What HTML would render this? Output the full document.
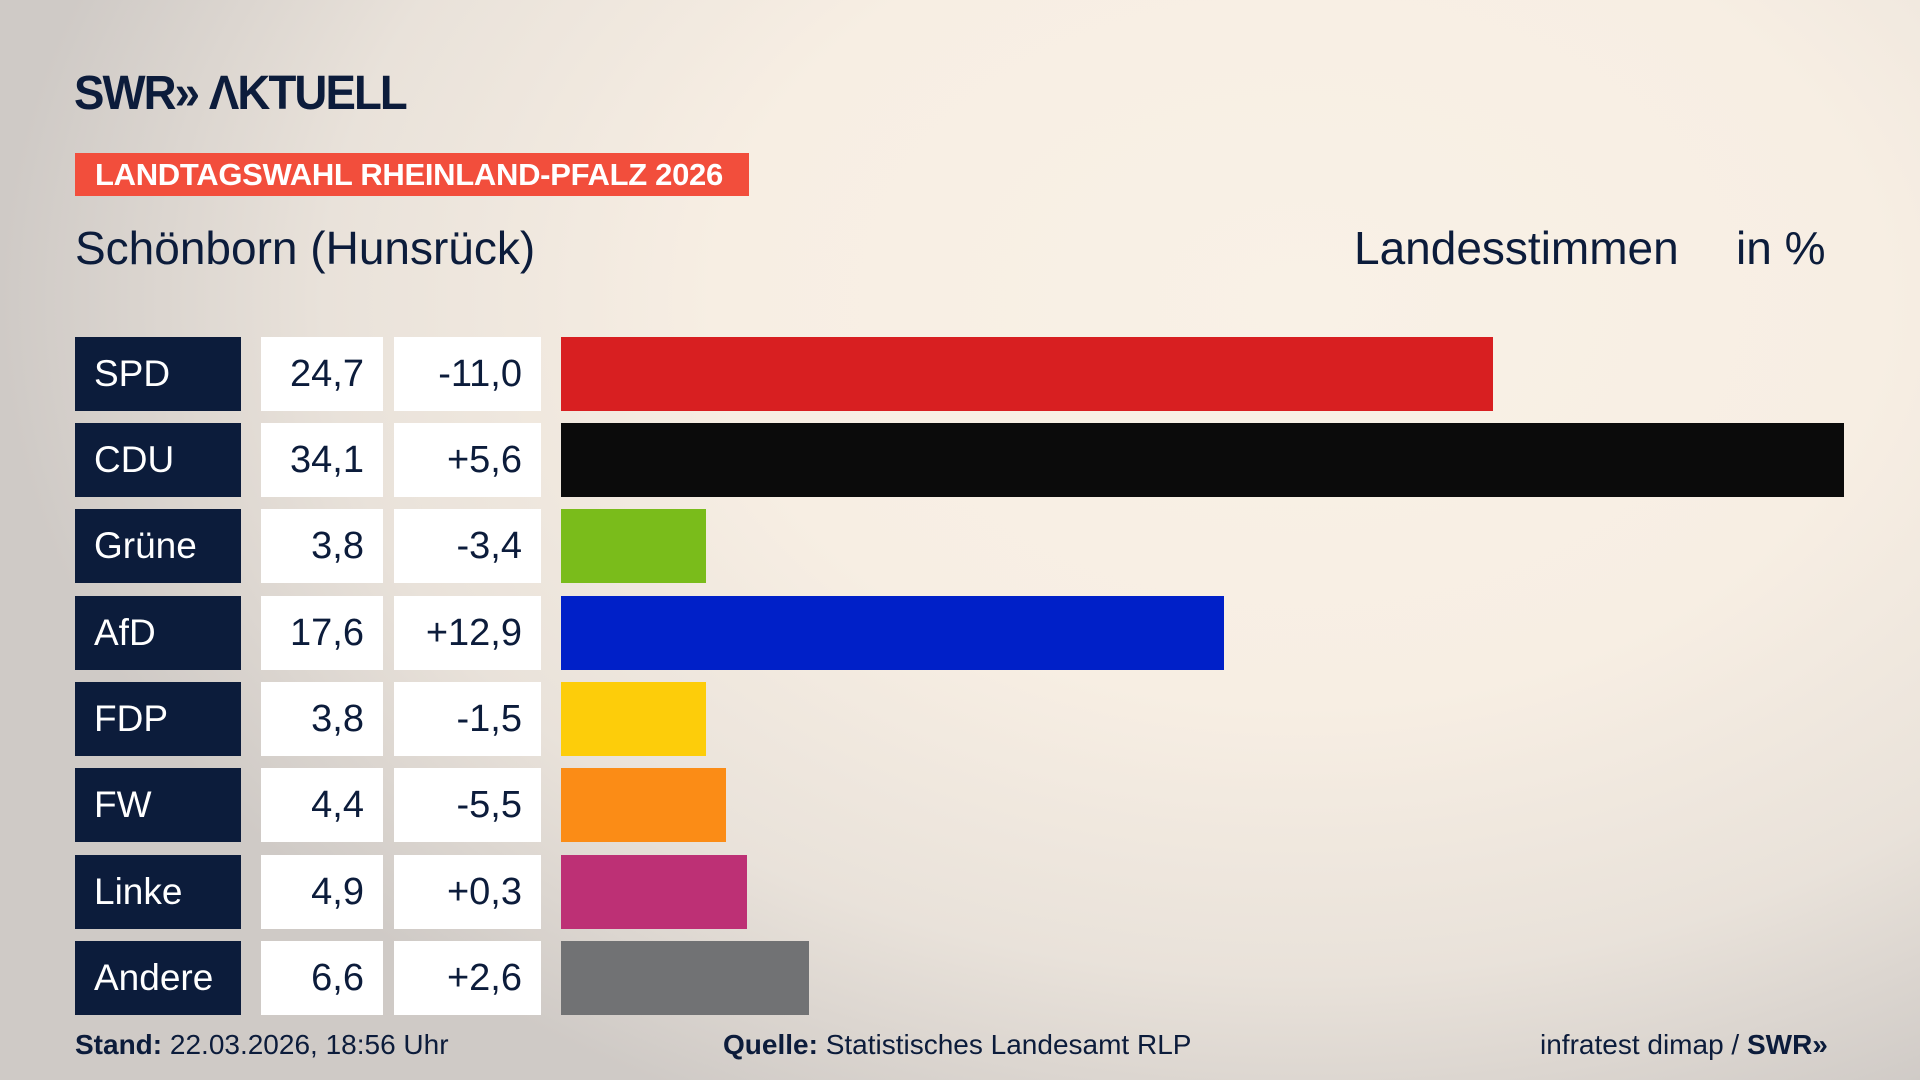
<!DOCTYPE html>
<html><head><meta charset="utf-8"><style>
html,body{margin:0;padding:0}
body{width:1920px;height:1080px;position:relative;overflow:hidden;font-family:"Liberation Sans",sans-serif;color:#0c1c3b;
background:radial-gradient(ellipse 1300px 900px at 1300px 300px,#f9f1e6 0%,#f7eee3 45%,#e9e2da 75%,#cfcac6 100%);}
.a{position:absolute}
.logo{left:74px;top:66px;font-size:48px;font-weight:bold;letter-spacing:-2px;color:#0c1c3b;transform:scaleX(0.95);transform-origin:left}
.ban{left:75px;top:153px;width:674px;height:43px;background:#f24e3c;color:#fff;font-weight:bold;font-size:31px;line-height:43px;text-indent:20px;letter-spacing:-0.3px}
.t{font-size:46px;top:221px}
.p{left:75px;width:166px;background:#0c1c3b;color:#fff;font-size:37px;line-height:74px;text-indent:19px}
.v{left:261px;width:122px;background:#fff;font-size:38px;line-height:74px;text-align:right;box-sizing:border-box;padding-right:19px}
.d{left:394px;width:147px;background:#fff;font-size:38px;line-height:74px;text-align:right;box-sizing:border-box;padding-right:19px}
.b{left:561px;height:74px}
.f{top:1029px;font-size:28px}
</style></head><body>
<div class="a logo">SWR» ΛKTUELL</div>
<div class="a ban">LANDTAGSWAHL RHEINLAND-PFALZ 2026</div>
<div class="a t" style="left:75px">Schönborn (Hunsrück)</div>
<div class="a t" style="left:1354px">Landesstimmen</div>
<div class="a t" style="left:1736px">in %</div>

<div class="a p" style="top:337px">SPD</div><div class="a v" style="top:337px">24,7</div><div class="a d" style="top:337px">-11,0</div><div class="a b" style="top:337px;width:932px;background:#d81f21"></div>
<div class="a p" style="top:423px">CDU</div><div class="a v" style="top:423px">34,1</div><div class="a d" style="top:423px">+5,6</div><div class="a b" style="top:423px;width:1283px;background:#0b0b0b"></div>
<div class="a p" style="top:509px">Grüne</div><div class="a v" style="top:509px">3,8</div><div class="a d" style="top:509px">-3,4</div><div class="a b" style="top:509px;width:145px;background:#7abc1b"></div>
<div class="a p" style="top:596px">AfD</div><div class="a v" style="top:596px">17,6</div><div class="a d" style="top:596px">+12,9</div><div class="a b" style="top:596px;width:663px;background:#0020c8"></div>
<div class="a p" style="top:682px">FDP</div><div class="a v" style="top:682px">3,8</div><div class="a d" style="top:682px">-1,5</div><div class="a b" style="top:682px;width:145px;background:#fdcd0a"></div>
<div class="a p" style="top:768px">FW</div><div class="a v" style="top:768px">4,4</div><div class="a d" style="top:768px">-5,5</div><div class="a b" style="top:768px;width:165px;background:#fb8c16"></div>
<div class="a p" style="top:855px">Linke</div><div class="a v" style="top:855px">4,9</div><div class="a d" style="top:855px">+0,3</div><div class="a b" style="top:855px;width:186px;background:#bd3075"></div>
<div class="a p" style="top:941px">Andere</div><div class="a v" style="top:941px">6,6</div><div class="a d" style="top:941px">+2,6</div><div class="a b" style="top:941px;width:248px;background:#717274"></div>

<div class="a f" style="left:75px"><b>Stand:</b> 22.03.2026, 18:56 Uhr</div>
<div class="a f" style="left:723px"><b>Quelle:</b> Statistisches Landesamt RLP</div>
<div class="a f" style="left:1540px">infratest dimap / <b>SWR»</b></div>
</body></html>
